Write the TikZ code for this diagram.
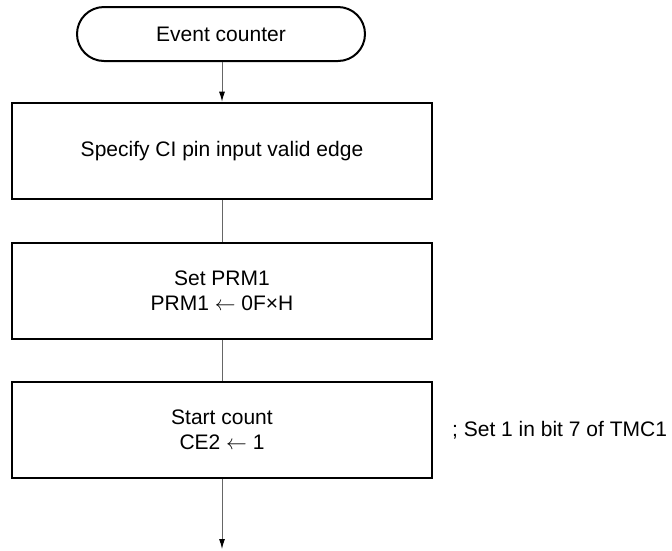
\documentclass[tikz,border=0pt]{standalone}
\usepackage{fontspec}
\setmainfont{Liberation Sans}
\usetikzlibrary{arrows.meta}
\begin{document}
\begin{tikzpicture}[x=1pt,y=-1pt,
  every node/.style={font=\fontsize{21}{25.5}\selectfont, inner sep=0pt},
  term/.style={draw=black, line width=2pt, minimum width=288pt, minimum height=54pt, rounded corners=27pt},
  procbox/.style={draw=black, line width=2.6pt, minimum width=420pt, minimum height=96pt, align=center},
  conn/.style={draw=black!60, line width=1pt},
  arr/.style={conn, -{Latex[length=10pt,width=6pt,black]}}
]
\useasboundingbox (0,0) rectangle (672,550);
\node[term] (t) at (221,34) {Event counter};
\node[procbox] (b1) at (222,151) {Specify CI pin input valid edge};
\node[procbox] (b2) at (222,291) {Set PRM1\\PRM1 $\leftarrow$ 0F×H};
\node[procbox] (b3) at (222,430) {Start count\\CE2 $\leftarrow$ 1};
\node[anchor=west] (c) at (452,430) {; Set 1 in bit 7 of TMC1};
\coordinate (e) at (222,549);
\draw[arr] (t.south -| b1.north) -- (b1.north);
\draw[conn] (b1) -- (b2);
\draw[conn] (b2) -- (b3);
\draw[arr] (b3.south) -- (e);
\end{tikzpicture}
\end{document}
